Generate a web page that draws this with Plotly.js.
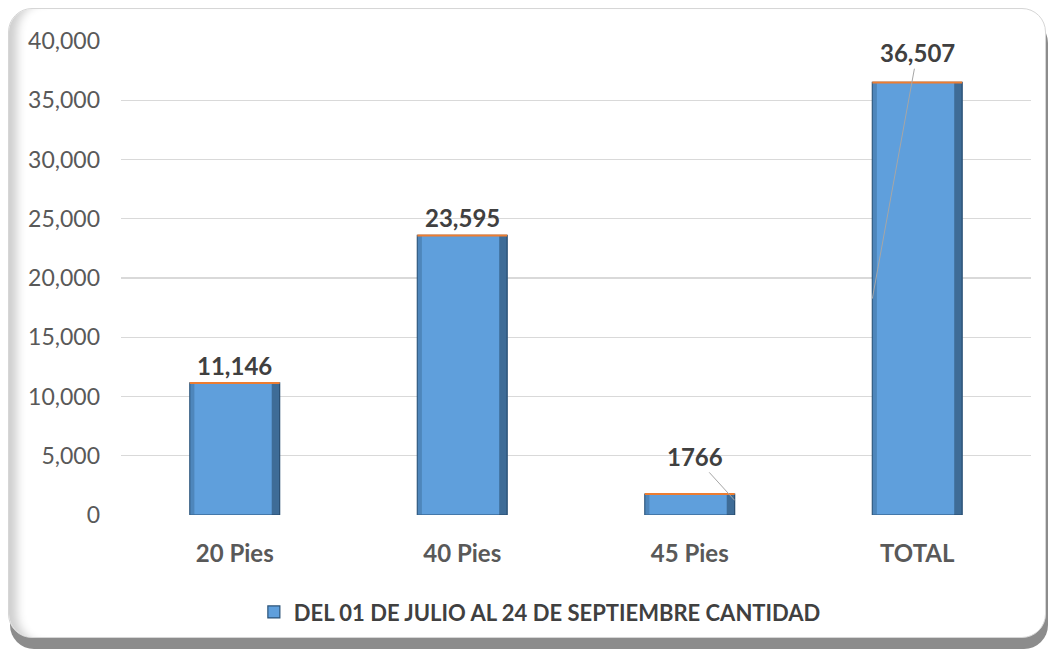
<!DOCTYPE html>
<html>
<head>
<meta charset="utf-8">
<script src="https://cdn.plot.ly/plotly-3.0.1.min.js"></script>
<style>
  html, body { margin: 0; padding: 0; background: #ffffff; }
  #frame {
    position: absolute; left: 8px; top: 8px; width: 1036px; height: 628px;
    border: 1px solid #d6d6d6; border-radius: 24px; background: #ffffff;
    box-shadow: 2px 11px 0 #8c8c8c, inset 16px 0 10px -8px #cfcfcf;
  }
  #plot { position: absolute; left: 0; top: 0; width: 1049px; height: 652px; }
</style>
</head>
<body>
<div id="frame"></div>
<div id="plot"></div>
<script>
const categories = ["20 Pies", "40 Pies", "45 Pies", "TOTAL"];
const values = [11146, 23595, 1766, 36507];
const valueLabels = ["11,146", "23,595", "1766", "36,507"];
const yTicks = [0, 5000, 10000, 15000, 20000, 25000, 30000, 35000, 40000];
const yTickLabels = ["0", "5,000", "10,000", "15,000", "20,000", "25,000", "30,000", "35,000", "40,000"];
const seriesName = "DEL 01 DE JULIO AL 24 DE SEPTIEMBRE CANTIDAD";

const barWidth = 0.395;
const half = barWidth / 2;

const trace = {
  type: "bar",
  x: categories,
  y: values,
  name: seriesName,
  width: barWidth,
  marker: { color: "#5f9fdc", line: { color: "#2b5378", width: 1.2 } },
  hoverinfo: "x+y",
  showlegend: true
};

// bevel-like edges and the orange rim along the top of each bar
const shapes = [];
values.forEach((v, i) => {
  shapes.push({
    type: "rect", xref: "x", yref: "y", layer: "above",
    x0: i + half - 0.035, x1: i + half, y0: 0, y1: v,
    fillcolor: "#23415f", opacity: 0.55, line: { width: 0 }
  });
  shapes.push({
    type: "rect", xref: "x", yref: "y", layer: "above",
    x0: i - half, x1: i - half + 0.02, y0: 0, y1: v,
    fillcolor: "#3d6d99", opacity: 0.5, line: { width: 0 }
  });
  shapes.push({
    type: "line", xref: "x", yref: "y",
    x0: i - half, x1: i + half, y0: v, y1: v,
    line: { color: "#ed7d31", width: 2 }
  });
});

// data labels; two of them have leader lines like the original
const annotations = values.map((v, i) => {
  const a = {
    x: categories[i], y: v, text: "<b>" + valueLabels[i] + "</b>",
    xref: "x", yref: "y", showarrow: false, yanchor: "bottom", yshift: 1,
    font: { family: "Lato, sans-serif", size: 24, color: "#404040" }
  };
  if (i === 2) {
    Object.assign(a, { x: i + half, y: v * 0.7, showarrow: true, arrowhead: 0,
      arrowwidth: 1, arrowcolor: "#a6a6a6", ax: -40, ay: -44, yanchor: "middle", yshift: 0 });
  }
  if (i === 3) {
    Object.assign(a, { x: i - half, y: v * 0.5, showarrow: true, arrowhead: 0,
      arrowwidth: 1, arrowcolor: "#a6a6a6", ax: 45, ay: -246, yanchor: "middle", yshift: 0 });
  }
  return a;
});

const layout = {
  width: 1049, height: 652,
  margin: { l: 121, r: 18, t: 41, b: 137 },
  paper_bgcolor: "rgba(0,0,0,0)",
  plot_bgcolor: "rgba(0,0,0,0)",
  xaxis: {
    type: "category", showgrid: false, zeroline: false, showline: false, ticks: "",
    ticklabelstandoff: 22,
    tickfont: { family: "Lato, sans-serif", size: 24, color: "#595959", weight: "bold" }
  },
  yaxis: {
    range: [0, 40000], tickvals: yTicks, ticktext: yTickLabels,
    showgrid: true, gridcolor: "#d9d9d9", gridwidth: 1.3, zeroline: false, showline: false,
    ticks: "", ticklabelstandoff: 20,
    tickfont: { family: "Lato, sans-serif", size: 23, color: "#595959" }
  },
  legend: {
    orientation: "h", x: 0.146, xanchor: "left", y: -0.205, yanchor: "middle",
    font: { family: "Lato, sans-serif", size: 22, color: "#404040", weight: "bold" },
    itemwidth: 30
  },
  shapes: shapes,
  annotations: annotations
};

Plotly.newPlot("plot", [trace], layout, { displayModeBar: false, staticPlot: true });
</script>
</body>
</html>
